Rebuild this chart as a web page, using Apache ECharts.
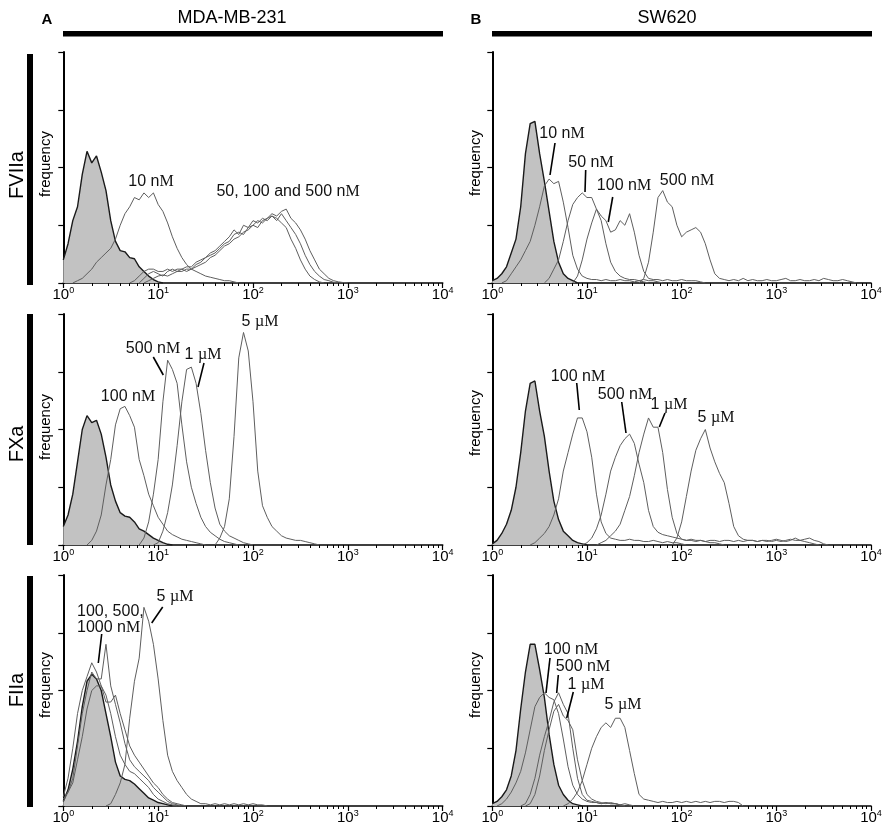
<!DOCTYPE html>
<html><head><meta charset="utf-8">
<script src="https://cdn.jsdelivr.net/npm/echarts@6/dist/echarts.min.js"></script>
<style>html,body{margin:0;padding:0;background:#fff}#c{width:886px;height:828px}</style>
</head><body><div id="c"></div>
<script>
// histogram channel width in log10 units (fluorescence intensity axis)
const STEP = 0.05;
const X_TICK_EXPONENTS = [0, 1, 2, 3, 4];

// ---- Panel A, FVIIa (MDA-MB-231) ----
const A_FVIIa_names  = ['control', '10 nM', '50 nM', '100 nM', '500 nM'];
const A_FVIIa_starts = [0, 0.10, 0.70, 0.80, 0.85];
const A_FVIIa_ctrl = [10,17,27,33,47,57,52,55,48,40,27,18,14,13.5,11,10.5,7,5,3,1.5,0.5,0];
const A_FVIIa_10   = [0,1,2,4,6,9,11,13,15,19,25,30,33,37,36,39,37,39,34,31,26,20,15,11,8,6,5,4,3,2.5,2,1.5,1,1,0.5,0];
const A_FVIIa_50   = [0,1,3,5,6,6,5,5,6,5,6,6,7,7,9,10,11,13,14,16,18,20,23,21,25,24,27,26,28,27,29,28,26,24,19,15,10,6,3,1.5,0.5,0];
const A_FVIIa_100  = [0,2,4,5,4,3,5,6,5,6,5,6,8,9,11,12,13,15,17,18,21,22,21,24,25,27,26,28,29,27,30,27,24,21,17,12,8,5,3,1.5,1,0.3,0];
const A_FVIIa_500  = [0,1,2,3,3.5,3,4,5,5,6,6,7,8,9,11,12,14,16,17,19,20,22,23,25,24,27,28,30,29,31,32,28,26,23,19,14,10,6,4,2,1,0.5,0.2,0];

// ---- Panel B, FVIIa (SW620) ----
const B_FVIIa_names  = ['control', '10 nM', '50 nM', '100 nM', '500 nM'];
const B_FVIIa_starts = [0, 0.10, 0.55, 0.85, 1.55];
const B_FVIIa_ctrl = [1,2,4,7,13,19,33,56,69,70,56,44,31,18,9,4,2,1,0];
const B_FVIIa_10   = [0,1,4,7,10,14,18,25,33,42,45,43,44,35,24,12,6,3,2,1.5,1.5,1,1.5,1,1,1.5,1,1,0.5,1,0.5,0];
const B_FVIIa_50   = [0,2,6,10,18,27,34,37,39,37,37,32,27,17,9,5,3,2,1.5,1.5,1,1.5,1,1,0.5,0];
const B_FVIIa_100  = [0,3,10,19,26,32,29,27,22,23,27,25,30,22,12,5,2,1.5,1.5,1,1.5,1,1,1.5,1,1,1,0.5,0];
const B_FVIIa_500  = [0,2,9,22,37,40,35,33,25,20,22,23,24,22,17,10,4,2,1.5,1,1.5,1,2,1,1.5,1,1,1.5,1,1,1.5,2,1,1,1.5,1,1,1.5,1,2,1.5,1,1,1.5,1,0.5,0];

// ---- Panel A, FXa (MDA-MB-231) ----
const A_FXa_names  = ['control', '100 nM', '500 nM', '1 µM', '5 µM'];
const A_FXa_starts = [0, 0.25, 0.80, 0.95, 1.60];
const A_FXa_ctrl = [8,13,22,36,50,56,53,54,48,38,26,19,14,12.5,12,10,7,6,4.5,3,2,1,0.3,0];
const A_FXa_100  = [0,2,6,13,26,37,52,59,60,56,51,37,30,22,17,12,9,6,4.5,3.5,2.5,2,1.5,1,0.5,0];
const A_FXa_500  = [0,3,10,22,37,62,80,76,70,52,36,25,18,12,8,5.5,4,2.5,1.5,1,0.5,0];
const A_FXa_1u   = [0,1,6,14,26,43,62,76,77,70,57,41,27,16,9,6,4,3,2,1,0.5,0];
const A_FXa_5u   = [0,3,8,20,47,81,92,84,62,32,17,12,8,6,4,3,2.5,2,2,1.5,1,0.5,0];

// ---- Panel B, FXa (SW620) ----
const B_FXa_names  = ['control', '100 nM', '500 nM', '1 µM', '5 µM'];
const B_FXa_starts = [0, 0.40, 0.95, 1.10, 1.90];
const B_FXa_ctrl = [0.5,2,5,9,15,25,40,58,70,71,58,47,32,19,11,6,4,2,1,0.5,0];
const B_FXa_100  = [0,1,3,5,8,13,20,32,40,48,55,55,49,38,22,10,5,3,2.5,2,2,2.5,2,2,1.5,1.5,2,1.5,1,1.5,1,1,0.5,0];
const B_FXa_500  = [0,1,3,7,13,22,32,38,43,46,48,44,35,27,15,8,5.5,4.5,4,3.5,3,2.5,2,2.5,2,2,1.5,2,2,1.5,2,2,1.5,2,1.5,2,2,1.5,2,1.5,2,2.5,2,1.5,2,3,2,1.5,1,0.5,0];
const B_FXa_1u   = [0,1,2,4,6,9,15,21,30,40,48,55,51,51,40,24,12,5,2.5,2,2,1.5,2,1.5,1,1,0.5,0];
const B_FXa_5u   = [0,3,10,21,32,41,46,50,42,36,31,27,18,8,4,2.5,2,2,1.5,2,2,1.5,2,1.5,2,2.5,2,2,2.5,3,2,1.5,0.5,0];

// ---- Panel A, FIIa (MDA-MB-231) ----
const A_FIIa_names  = ['control', '100 nM', '500 nM', '1000 nM', '5 µM'];
const A_FIIa_starts = [0, 0, 0, 0, 0.45];
const A_FIIa_ctrl = [2,7,16,28,43,54,57,55,50,40,30,19,13,11.5,11,9.5,7.5,5.5,3.5,2.5,1.5,1,0.5,0];
const A_FIIa_100  = [4,12,25,40,50,56,62,58,52,48,40,30,22,18,15,14,12,10,8,5,3,2,1,0.5,0];
const A_FIIa_500  = [2,6,12,26,40,50,58,55,55,70,52,44,36,27,20,17,15,13,11,8,6,4,2,1,0.5,0];
const A_FIIa_1000 = [3,6,10,20,30,42,50,52,52,45,45,48,40,33,26,22,19,16,13,10,8,5,3,1.5,1,0.5,0];
const A_FIIa_5u   = [0,1,5,10,18,38,54,64,86,80,70,55,37,22,15,11,8,5,3,2,1,1,0.5,1,0.5,1,0.5,1,0.5,1,0.5,1,0.5,0.5,0];

// ---- Panel B, FIIa (SW620) ----
const B_FIIa_names  = ['control', '100 nM', '500 nM', '1 µM', '5 µM'];
const B_FIIa_starts = [0, 0.05, 0.30, 0.35, 0.75];
const B_FIIa_ctrl = [1,2,4,7,13,24,42,58,70,70,59,47,31,18,9,5,2.5,1,0.5,0];
const B_FIIa_100  = [0,1,3,6,10,15,23,33,43,47,49,47,46,40,29,17,9,5,3,2,1.5,1.5,1,1.5,1,1,0.5,1,0.5,0];
const B_FIIa_500  = [0,1,5,12,22,30,37,45,49,44,40,25,12,5,2.5,2,1.5,1,1.5,1,1,0.5,0];
const B_FIIa_1u   = [0,1,5,13,24,33,41,44,39,37,33,20,11,5,3,2,1.5,1,1.5,1,0.5,0];
const B_FIIa_5u   = [0,1,3,6,11,18,25,30,34,36,34,38,38,34,24,14,5,3,2.5,2,1.5,2,1.5,1.5,2,1.5,2,1.5,2,1.5,2,1.5,2,2,1.5,2,2,1.5,0];

// ---- layout (pixels) ----
const COL_LEFT = [63.3, 492.3];
const COL_WIDTH = [379.4, 378.7];
const ROW_TOP = [52, 314, 575];
const ROW_HEIGHT = 231;

const panels = [
  {col:0,row:0,names:A_FVIIa_names,starts:A_FVIIa_starts,data:[A_FVIIa_ctrl,A_FVIIa_10,A_FVIIa_50,A_FVIIa_100,A_FVIIa_500]},
  {col:1,row:0,names:B_FVIIa_names,starts:B_FVIIa_starts,data:[B_FVIIa_ctrl,B_FVIIa_10,B_FVIIa_50,B_FVIIa_100,B_FVIIa_500]},
  {col:0,row:1,names:A_FXa_names,starts:A_FXa_starts,data:[A_FXa_ctrl,A_FXa_100,A_FXa_500,A_FXa_1u,A_FXa_5u]},
  {col:1,row:1,names:B_FXa_names,starts:B_FXa_starts,data:[B_FXa_ctrl,B_FXa_100,B_FXa_500,B_FXa_1u,B_FXa_5u]},
  {col:0,row:2,names:A_FIIa_names,starts:A_FIIa_starts,data:[A_FIIa_ctrl,A_FIIa_100,A_FIIa_500,A_FIIa_1000,A_FIIa_5u]},
  {col:1,row:2,names:B_FIIa_names,starts:B_FIIa_starts,data:[B_FIIa_ctrl,B_FIIa_100,B_FIIa_500,B_FIIa_1u,B_FIIa_5u]}
];

const SANS = '"Liberation Sans", Arial, sans-serif';
const SERIF = '"Liberation Serif", "Times New Roman", serif';

const grids = [], xAxes = [], yAxes = [], series = [];
panels.forEach((p, i) => {
  grids.push({left: COL_LEFT[p.col], top: ROW_TOP[p.row], width: COL_WIDTH[p.col], height: ROW_HEIGHT, containLabel: false});
  xAxes.push({
    type: 'log', logBase: 10, min: 1, max: 10000, gridIndex: i, splitNumber: 4,
    axisLine: {onZero: false, lineStyle: {color: '#000', width: 1.6}},
    axisTick: {show: true, length: 5, lineStyle: {color: '#000', width: 1.2}},
    minorTick: {show: true, splitNumber: 9, length: 3, lineStyle: {color: '#000', width: 1}},
    splitLine: {show: false}, minorSplitLine: {show: false},
    axisLabel: {
      margin: 3, showMinLabel: true, showMaxLabel: true,
      formatter: v => '{b|10}{s|' + X_TICK_EXPONENTS[Math.round(Math.log10(v))] + '}',
      rich: {
        b: {fontSize: 15, fontFamily: SANS, color: '#000', lineHeight: 17},
        s: {fontSize: 9, fontFamily: SANS, color: '#000', lineHeight: 17, verticalAlign: 'top'}
      }
    }
  });
  yAxes.push({
    type: 'value', min: 0, max: 100, interval: 25, gridIndex: i,
    axisLine: {show: true, lineStyle: {color: '#000', width: 2}},
    axisTick: {show: true, length: 5, lineStyle: {color: '#000', width: 1.2}},
    axisLabel: {show: false}, splitLine: {show: false}
  });
  p.data.forEach((ys, k) => {
    const pts = ys.map((y, j) => [Math.pow(10, p.starts[k] + j * STEP), y]);
    const isCtrl = k === 0;
    series.push({
      type: 'line', name: p.names[k], xAxisIndex: i, yAxisIndex: i, data: pts,
      showSymbol: false, symbol: 'none', smooth: false, animation: false,
      z: isCtrl ? 2 : 3,
      lineStyle: isCtrl ? {color: '#1a1a1a', width: 1.4} : {color: '#5e5e5e', width: 1},
      areaStyle: isCtrl ? {color: '#c2c2c2', opacity: 1} : undefined
    });
  });
});

// annotations: sans part + serif part ("M", "µM")
const LBL_SIZE = 16;
function lbl(x, y, sansPart, serifPart, align) {
  return {type: 'text', x: x, y: y, z: 10, style: {
    text: '{n|' + sansPart + '}{u|' + serifPart + '}', align: align || 'center', verticalAlign: 'middle',
    fontSize: LBL_SIZE, fontFamily: SANS, fill: '#111',
    rich: {n: {fontSize: LBL_SIZE, fontFamily: SANS, fill: '#111'}, u: {fontSize: LBL_SIZE, fontFamily: SERIF, fill: '#111'}}
  }};
}
function seg(x1, y1, x2, y2) {
  return {type: 'line', z: 10, shape: {x1: x1, y1: y1, x2: x2, y2: y2}, style: {stroke: '#000', lineWidth: 1.6}};
}
function txt(x, y, s, size, opts) {
  return Object.assign({type: 'text', x: x, y: y, z: 10, style: {text: s, fontSize: size, fontFamily: SANS, fill: '#000', align: 'center', verticalAlign: 'middle', fontWeight: (opts && opts.bold) ? 'bold' : 'normal'}}, (opts && opts.rot) ? {rotation: Math.PI / 2} : {});
}
function bar(x, y, w, h) { return {type: 'rect', z: 10, shape: {x: x, y: y, width: w, height: h}, style: {fill: '#000'}}; }

const graphics = [
  txt(47, 20, 'A', 15, {bold: true}),
  txt(232, 18, 'MDA-MB-231', 18),
  bar(63, 31, 380, 5.5),
  txt(476, 20, 'B', 15, {bold: true}),
  txt(667, 18, 'SW620', 18),
  bar(492, 31, 380, 5.5),
  bar(27, 54, 6, 231), bar(27, 314, 6, 231), bar(27, 576, 6, 231),
  txt(17, 175, 'FVIIa', 20, {rot: true}),
  txt(17, 444, 'FXa', 20, {rot: true}),
  txt(17, 690, 'FIIa', 20, {rot: true}),
  txt(46, 164, 'frequency', 15, {rot: true}), txt(46, 427, 'frequency', 15, {rot: true}), txt(46, 685, 'frequency', 15, {rot: true}),
  txt(476, 163, 'frequency', 15, {rot: true}), txt(476, 423, 'frequency', 15, {rot: true}), txt(476, 685, 'frequency', 15, {rot: true}),
  // A FVIIa
  lbl(151, 182, '10 n', 'M'), lbl(288, 192, '50, 100 and 500 n', 'M'),
  // B FVIIa
  lbl(562, 134, '10 n', 'M'), seg(555, 143, 550, 175),
  lbl(591, 163, '50 n', 'M'), seg(585.7, 170, 585, 192),
  lbl(624, 186, '100 n', 'M'), seg(612.7, 197, 608.3, 222),
  lbl(687, 181, '500 n', 'M'),
  // A FXa
  lbl(128, 397, '100 n', 'M'),
  lbl(153, 349, '500 n', 'M'), seg(153.3, 357, 163.3, 375),
  lbl(203, 355, '1 ', 'µM'), seg(204, 363, 198, 387),
  lbl(260, 322, '5 ', 'µM'),
  // B FXa
  lbl(578, 377, '100 n', 'M'), seg(576.7, 383, 579.3, 410),
  lbl(625, 395, '500 n', 'M'), seg(621.7, 402, 626, 433),
  lbl(669, 405, '1 ', 'µM'), seg(665, 413, 659.3, 427),
  lbl(716, 418, '5 ', 'µM'),
  // A FIIa
  {type: 'text', x: 77, y: 612, z: 10, style: {text: '100, 500,', fontSize: LBL_SIZE, fontFamily: SANS, fill: '#111', align: 'left', verticalAlign: 'middle'}},
  lbl(77, 628, '1000 n', 'M', 'left'), seg(101.7, 634, 98.3, 663),
  lbl(175, 597, '5 ', 'µM'), seg(162.7, 607, 151.7, 623),
  // B FIIa
  lbl(571, 650, '100 n', 'M'), seg(550, 658, 546, 693),
  lbl(583, 667, '500 n', 'M'), seg(558.3, 675, 556.7, 693),
  lbl(586, 685, '1 ', 'µM'), seg(573.3, 692, 566.7, 718),
  lbl(623, 705, '5 ', 'µM')
];

const chart = echarts.init(document.getElementById('c'), null, {renderer: 'canvas'});
chart.setOption({
  animation: false, backgroundColor: '#fff',
  grid: grids, xAxis: xAxes, yAxis: yAxes, series: series, graphic: graphics
});
</script></body></html>
